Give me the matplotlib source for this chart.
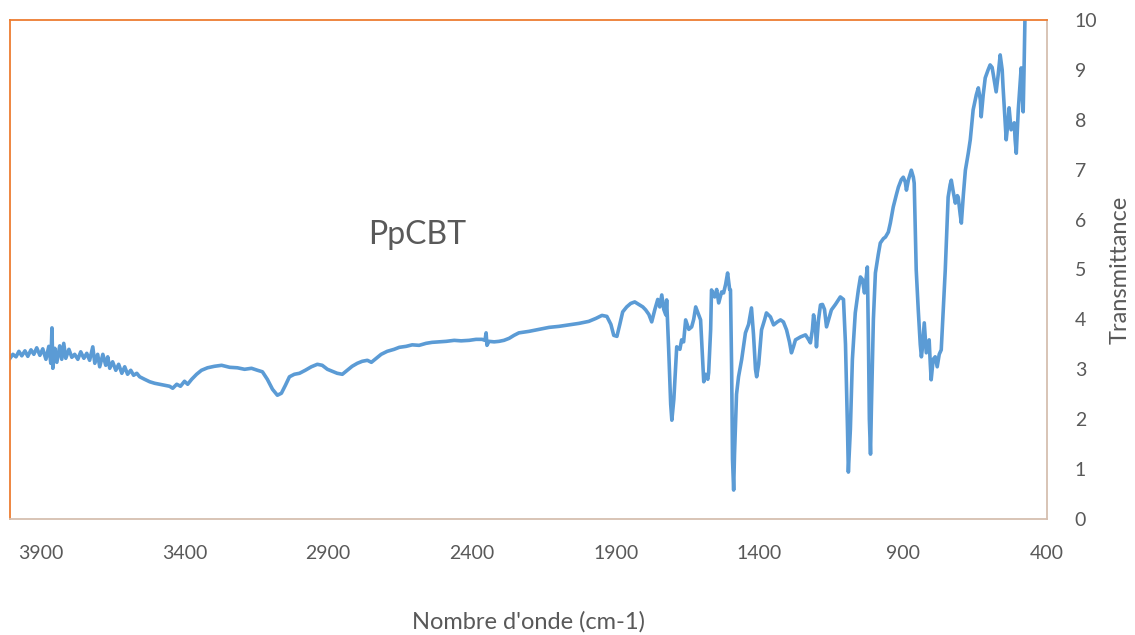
import numpy as np
import matplotlib.pyplot as plt

# Spectre FTIR du PpCBT
wavenumber = [
    4007, 3997, 3986, 3976, 3966, 3955, 3945, 3934, 3924, 3914, 3903, 3893, 3882, 3872, 3865, 3861,
    3858, 3851, 3844, 3834, 3827, 3820, 3813, 3802, 3792, 3782, 3771, 3761, 3750, 3740, 3730, 3719,
    3712, 3702, 3695, 3684, 3674, 3667, 3660, 3650, 3639, 3629, 3618, 3608, 3598, 3587, 3577, 3566,
    3556, 3539, 3521, 3504, 3487, 3469, 3452, 3441, 3427, 3414, 3400, 3389, 3375, 3358, 3341, 3320,
    3296, 3271, 3243, 3216, 3191, 3167, 3146, 3129, 3112, 3094, 3077, 3063, 3049, 3035, 3018, 3000,
    2980, 2959, 2938, 2921, 2903, 2886, 2869, 2851, 2834, 2817, 2799, 2782, 2764, 2750, 2733, 2716,
    2695, 2671, 2653, 2629, 2608, 2584, 2560, 2539, 2514, 2490, 2462, 2438, 2410, 2386, 2365, 2355,
    2351, 2348, 2341, 2323, 2306, 2289, 2271, 2254, 2237, 2202, 2167, 2132, 2098, 2063, 2028, 1994,
    1969, 1948, 1931, 1917, 1907, 1896, 1886, 1876, 1862, 1848, 1834, 1820, 1806, 1796, 1785, 1775,
    1764, 1754, 1747, 1740, 1733, 1726, 1723, 1716, 1709, 1705, 1698, 1688, 1677, 1671, 1664, 1657,
    1646, 1636, 1629, 1622, 1612, 1605, 1598, 1594, 1587, 1580, 1577, 1570, 1567, 1556, 1549, 1542,
    1532, 1525, 1518, 1511, 1504, 1501, 1497, 1494, 1490, 1487, 1480, 1473, 1462, 1449, 1438, 1428,
    1421, 1414, 1410, 1403, 1393, 1382, 1376, 1362, 1351, 1338, 1327, 1317, 1306, 1296, 1289, 1282,
    1275, 1257, 1240, 1230, 1223, 1216, 1212, 1205, 1202, 1195, 1188, 1181, 1174, 1167, 1160, 1150,
    1136, 1119, 1108, 1101, 1094, 1091, 1084, 1077, 1067, 1056, 1049, 1042, 1035, 1025, 1021, 1018,
    1014, 1011, 1004, 997, 987, 980, 969, 962, 952, 945, 935, 924, 917, 907, 900, 893,
    889, 882, 872, 865, 862, 855, 848, 841, 837, 834, 827, 820, 810, 806, 803, 796,
    789, 782, 775, 768, 761, 754, 744, 737, 733, 726, 719, 712, 709, 702, 698, 691,
    684, 674, 667, 657, 646, 639, 632, 629, 622, 615, 605, 598, 591, 584, 577, 570,
    563, 556, 553, 546, 542, 535, 532, 525, 514, 511, 507, 500, 490, 487, 483, 480,
    476,
]
transmittance = [
    3.22, 3.30, 3.25, 3.36, 3.27, 3.37, 3.26, 3.39, 3.30, 3.43, 3.28, 3.41, 3.20, 3.46, 3.12, 3.83,
    3.02, 3.42, 3.14, 3.47, 3.20, 3.52, 3.22, 3.40, 3.24, 3.30, 3.20, 3.35, 3.22, 3.32, 3.18, 3.45,
    3.12, 3.30, 3.05, 3.30, 3.08, 3.25, 3.02, 3.15, 2.98, 3.10, 2.92, 3.05, 2.90, 2.98, 2.88, 2.92,
    2.85, 2.80, 2.75, 2.72, 2.70, 2.68, 2.66, 2.62, 2.70, 2.66, 2.76, 2.70, 2.80, 2.90, 2.98, 3.03,
    3.06, 3.08, 3.04, 3.03, 3.00, 3.02, 2.98, 2.95, 2.80, 2.60, 2.48, 2.52, 2.68, 2.85, 2.90, 2.92,
    2.98, 3.05, 3.10, 3.08, 3.00, 2.96, 2.92, 2.90, 2.98, 3.06, 3.12, 3.16, 3.18, 3.14, 3.22, 3.30,
    3.36, 3.40, 3.44, 3.46, 3.49, 3.48, 3.52, 3.54, 3.55, 3.56, 3.58, 3.57, 3.58, 3.60, 3.60, 3.58,
    3.73, 3.48, 3.56, 3.55, 3.56, 3.58, 3.62, 3.68, 3.73, 3.76, 3.80, 3.84, 3.86, 3.89, 3.92, 3.96,
    4.02, 4.08, 4.06, 3.90, 3.68, 3.66, 3.90, 4.15, 4.25, 4.32, 4.35, 4.30, 4.25, 4.19, 4.10, 3.95,
    4.20, 4.40, 4.25, 4.49, 4.20, 4.09, 4.39, 3.40, 2.30, 1.98, 2.40, 3.45, 3.40, 3.59, 3.55, 3.99,
    3.80, 3.85, 4.00, 4.25, 4.10, 3.99, 3.20, 2.75, 2.90, 2.80, 2.93, 3.80, 4.59, 4.45, 4.60, 4.33,
    4.55, 4.53, 4.70, 4.93, 4.60, 4.59, 3.00, 1.20, 0.58, 1.30, 2.50, 2.85, 3.20, 3.73, 3.90, 4.23,
    3.70, 3.00, 2.85, 3.10, 3.79, 4.00, 4.13, 4.05, 3.89, 3.95, 3.99, 3.95, 3.79, 3.55, 3.33, 3.45,
    3.59, 3.65, 3.69, 3.60, 3.53, 3.80, 4.09, 3.80, 3.45, 3.99, 4.29, 4.30, 4.20, 3.85, 3.99, 4.19,
    4.30, 4.45, 4.40, 3.50, 1.80, 0.94, 1.80, 3.20, 4.13, 4.60, 4.85, 4.80, 4.53, 5.05, 3.50, 2.00,
    1.30, 2.20, 4.00, 4.93, 5.30, 5.53, 5.62, 5.65, 5.75, 5.93, 6.25, 6.50, 6.65, 6.80, 6.85, 6.75,
    6.59, 6.80, 6.99, 6.85, 6.73, 4.99, 4.20, 3.50, 3.25, 3.40, 3.93, 3.33, 3.59, 3.10, 2.79, 3.20,
    3.25, 3.05, 3.30, 3.39, 4.20, 4.99, 6.45, 6.70, 6.79, 6.55, 6.33, 6.48, 6.45, 6.10, 5.93, 6.50,
    6.99, 7.33, 7.60, 8.20, 8.50, 8.64, 8.40, 8.06, 8.50, 8.84, 9.00, 9.10, 9.05, 8.80, 8.56, 8.90,
    9.30, 9.00, 8.66, 8.00, 7.60, 8.00, 8.24, 7.80, 7.94, 7.60, 7.33, 8.20, 9.04, 8.60, 8.16, 9.00,
    10.30,
]
x_ticks = [3900, 3400, 2900, 2400, 1900, 1400, 900, 400]
y_ticks = list(range(0, 11))

plt.rcParams['font.family'] = ['Lato', 'DejaVu Sans']

fig = plt.figure(figsize=(11.35, 6.35), dpi=100)
ax = fig.add_axes([0.0088, 0.1827, 0.9137, 0.7858])

ax.plot(wavenumber, transmittance, color='#5B9BD5', lw=2.6, solid_joinstyle='round')

ax.set_xlim(4007, 407)
ax.set_ylim(0, 10)
ax.set_xticks(x_ticks)
ax.set_yticks(y_ticks)

ax.yaxis.tick_right()
ax.yaxis.set_label_position('right')
ax.tick_params(axis='both', length=0, labelsize=14, labelcolor='#595959')
ax.tick_params(axis='y', pad=20)
ax.tick_params(axis='x', pad=19)

for side in ['top', 'left']:
    ax.spines[side].set_color('#ED7D31')
    ax.spines[side].set_linewidth(1.3)
for side in ['bottom', 'right']:
    ax.spines[side].set_color('#D6BFB0')
    ax.spines[side].set_linewidth(1.3)

ax.set_xlabel("Nombre d'onde (cm-1)", fontsize=17, color='#595959', labelpad=35)
ax.set_ylabel('Transmittance', fontsize=17, color='#595959', labelpad=9)

ax.text(2589, 5.7, 'PpCBT', fontsize=23, color='#595959', ha='center', va='center')

fig.savefig('out.png', dpi=100)
